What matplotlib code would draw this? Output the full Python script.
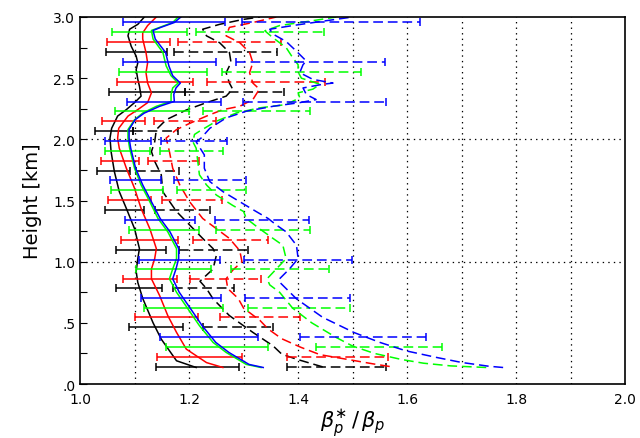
import matplotlib
matplotlib.use("Agg")
import matplotlib.pyplot as plt
import numpy as np

plt.rcParams['lines.scale_dashes'] = False

# ---- curves: height (km) and ratio ----
h_k = [0.135, 0.19, 0.367, 0.50, 0.70, 0.83, 0.92, 1.025, 1.107, 1.27, 1.435, 1.573, 1.737, 1.90, 2.01, 2.09,
       2.19, 2.243, 2.30, 2.353, 2.435, 2.49, 2.57, 2.625, 2.68, 2.76, 2.846, 2.90, 2.94, 3.0]
x_k = [1.213, 1.177, 1.149, 1.134, 1.115, 1.106, 1.103, 1.106, 1.109, 1.10, 1.085, 1.072, 1.063, 1.057, 1.055, 1.058,
       1.069, 1.085, 1.10, 1.112, 1.109, 1.106, 1.103, 1.106, 1.103, 1.094, 1.088, 1.091, 1.106, 1.118]

h_r = [0.135, 0.175, 0.285, 0.422, 0.559, 0.723, 0.86, 0.94, 1.025, 1.107, 1.27, 1.435, 1.60, 1.764, 1.928, 2.01,
       2.09, 2.19, 2.243, 2.30, 2.38, 2.46, 2.545, 2.625, 2.71, 2.82, 2.87, 2.93, 3.0]
x_r = [1.262, 1.232, 1.195, 1.177, 1.161, 1.146, 1.131, 1.131, 1.137, 1.14, 1.128, 1.112, 1.10, 1.085, 1.072, 1.069,
       1.071, 1.088, 1.106, 1.124, 1.131, 1.124, 1.121, 1.124, 1.121, 1.115, 1.115, 1.124, 1.14]

h_g = [0.135, 0.16, 0.258, 0.34, 0.477, 0.614, 0.75, 0.86, 0.94, 1.025, 1.107, 1.244, 1.353, 1.49, 1.627, 1.764,
       1.928, 2.01, 2.08, 2.16, 2.215, 2.27, 2.31, 2.367, 2.42, 2.46, 2.52, 2.60, 2.71, 2.82, 2.89, 2.915, 2.955, 3.0]
x_g = [1.332, 1.305, 1.268, 1.244, 1.219, 1.198, 1.177, 1.164, 1.17, 1.177, 1.177, 1.161, 1.143, 1.128, 1.112, 1.10,
       1.091, 1.088, 1.088, 1.10, 1.115, 1.14, 1.167, 1.167, 1.17, 1.18, 1.167, 1.158, 1.152, 1.134, 1.131, 1.146, 1.17, 1.18]

h_b = h_g
x_b = [1.336, 1.31, 1.273, 1.249, 1.224, 1.203, 1.182, 1.17, 1.176, 1.181, 1.181, 1.165, 1.147, 1.131, 1.115, 1.102,
       1.093, 1.09, 1.09, 1.101, 1.118, 1.146, 1.173, 1.172, 1.176, 1.184, 1.17, 1.163, 1.157, 1.138, 1.134, 1.148, 1.173, 1.185]

hd_k = [0.14, 0.203, 0.244, 0.312, 0.422, 0.559, 0.696, 0.78, 0.84, 0.94, 1.05, 1.107, 1.19, 1.30, 1.41, 1.57, 1.71,
        1.82, 1.90, 1.98, 2.08, 2.16, 2.24, 2.30, 2.353, 2.41, 2.46, 2.545, 2.627, 2.71, 2.79, 2.846, 2.90, 2.94, 2.98, 3.0]
xd_k = [1.445, 1.397, 1.37, 1.354, 1.317, 1.274, 1.244, 1.232, 1.22, 1.244, 1.25, 1.244, 1.225, 1.201, 1.177, 1.152, 1.149,
        1.137, 1.131, 1.137, 1.14, 1.158, 1.195, 1.232, 1.268, 1.28, 1.274, 1.268, 1.277, 1.274, 1.256, 1.232, 1.225, 1.256, 1.299, 1.33]

hd_r = [0.143, 0.165, 0.203, 0.24, 0.30, 0.37, 0.45, 0.52, 0.62, 0.70, 0.78, 0.86, 0.93, 1.0, 1.09, 1.19, 1.27, 1.353,
        1.49, 1.627, 1.764, 1.90, 2.01, 2.08, 2.13, 2.19, 2.243, 2.27, 2.325, 2.41, 2.46, 2.545, 2.627, 2.71, 2.79, 2.846,
        2.915, 2.955, 3.0]
xd_r = [1.568, 1.537, 1.488, 1.44, 1.405, 1.37, 1.345, 1.33, 1.30, 1.29, 1.271, 1.268, 1.28, 1.297, 1.293, 1.274, 1.25, 1.225,
        1.201, 1.183, 1.17, 1.164, 1.158, 1.177, 1.201, 1.232, 1.262, 1.293, 1.317, 1.329, 1.317, 1.311, 1.317, 1.311, 1.293, 1.268,
        1.274, 1.317, 1.36]

hd_g = [0.135, 0.148, 0.17, 0.20, 0.25, 0.31, 0.38, 0.50, 0.62, 0.75, 0.81, 0.86, 0.94, 1.025, 1.134, 1.19, 1.27, 1.353,
        1.41, 1.46, 1.545, 1.627, 1.71, 1.82, 1.928, 1.98, 2.04, 2.066, 2.148, 2.216, 2.257, 2.284, 2.34, 2.38, 2.41, 2.45,
        2.50, 2.55, 2.61, 2.668, 2.75, 2.83, 2.887, 2.93, 2.97, 3.0]
xd_g = [1.745, 1.68, 1.63, 1.59, 1.54, 1.50, 1.47, 1.425, 1.39, 1.366, 1.348, 1.343, 1.36, 1.378, 1.372, 1.354, 1.329, 1.305,
        1.30, 1.28, 1.25, 1.232, 1.219, 1.216, 1.213, 1.207, 1.21, 1.219, 1.25, 1.287, 1.329, 1.378, 1.403, 1.40, 1.427, 1.44,
        1.406, 1.40, 1.40, 1.39, 1.378, 1.354, 1.339, 1.366, 1.427, 1.47]

hd_b = [0.135, 0.145, 0.176, 0.217, 0.271, 0.34, 0.42, 0.545, 0.696, 0.833, 0.86, 0.94, 1.025, 1.134, 1.244, 1.30, 1.353,
        1.41, 1.49, 1.573, 1.655, 1.764, 1.873, 1.98, 2.01, 2.09, 2.175, 2.23, 2.27, 2.30, 2.325, 2.367, 2.42, 2.45, 2.46,
        2.49, 2.545, 2.61, 2.64, 2.72, 2.80, 2.86, 2.90, 2.93, 2.97, 3.0]
xd_b = [1.776, 1.75, 1.70, 1.654, 1.598, 1.55, 1.503, 1.445, 1.397, 1.366, 1.366, 1.384, 1.40, 1.397, 1.378, 1.36, 1.345,
        1.323, 1.293, 1.262, 1.238, 1.228, 1.228, 1.213, 1.222, 1.238, 1.268, 1.305, 1.354, 1.403, 1.433, 1.415, 1.409, 1.445, 1.464,
        1.427, 1.403, 1.409, 1.415, 1.397, 1.378, 1.354, 1.348, 1.39, 1.452, 1.50]

# ---- error bars: heights, solid (left,right), dashed (left,right) ----
eb_h_k = [0.137, 0.466, 0.786, 1.098, 1.422, 1.742, 2.066, 2.389, 2.717]
eb_h_r = [0.219, 0.548, 0.860, 1.175, 1.504, 1.824, 2.148, 2.471, 2.797]
eb_h_g = [0.302, 0.622, 0.942, 1.257, 1.583, 1.906, 2.230, 2.553, 2.879]
eb_h_b = [0.384, 0.704, 1.016, 1.339, 1.666, 1.988, 2.306, 2.633, 2.956]

sl_k = [1.14, 1.089, 1.066, 1.066, 1.046, 1.032, 1.028, 1.054, 1.047]
sr_k = [1.291, 1.189, 1.150, 1.157, 1.118, 1.091, 1.097, 1.192, 1.16]
dl_k = [1.379, 1.225, 1.17, 1.181, 1.137, 1.102, 1.097, 1.192, 1.173]
dr_k = [1.561, 1.354, 1.283, 1.308, 1.238, 1.181, 1.179, 1.375, 1.362]

sl_r = [1.142, 1.10, 1.079, 1.076, 1.052, 1.039, 1.041, 1.068, 1.05]
sr_r = [1.298, 1.217, 1.177, 1.18, 1.131, 1.109, 1.12, 1.207, 1.165]
dl_r = [1.379, 1.256, 1.201, 1.207, 1.151, 1.124, 1.135, 1.232, 1.18]
dr_r = [1.565, 1.404, 1.332, 1.345, 1.261, 1.218, 1.25, 1.45, 1.368]

sl_g = [1.158, 1.117, 1.102, 1.089, 1.057, 1.046, 1.065, 1.072, 1.058]
sr_g = [1.345, 1.262, 1.24, 1.218, 1.152, 1.129, 1.199, 1.233, 1.197]
dl_g = [1.432, 1.308, 1.277, 1.25, 1.177, 1.146, 1.225, 1.261, 1.213]
dr_g = [1.663, 1.495, 1.457, 1.422, 1.305, 1.262, 1.421, 1.516, 1.448]

sl_b = [1.147, 1.112, 1.108, 1.083, 1.055, 1.045, 1.087, 1.079, 1.079]
sr_b = [1.326, 1.258, 1.256, 1.21, 1.149, 1.131, 1.259, 1.25, 1.266]
dl_b = [1.404, 1.303, 1.30, 1.247, 1.173, 1.149, 1.299, 1.287, 1.298]
dr_b = [1.635, 1.496, 1.499, 1.42, 1.305, 1.269, 1.562, 1.56, 1.623]

xticks = [1.0, 1.2, 1.4, 1.6, 1.8, 2.0]
yticks = [0.0, 0.5, 1.0, 1.5, 2.0, 2.5, 3.0]
ylabels = [".0", ".5", "1.0", "1.5", "2.0", "2.5", "3.0"]

fig = plt.figure(figsize=(6.4, 4.39), dpi=100)
ax = fig.add_axes([0.125, 0.123, 0.852, 0.836])

dash = (0, (7, 3.5))
lw = 1.1

def bars(h, left, right, color, ls):
    left = np.array(left)
    right = np.array(right)
    c = (left + right) / 2
    e = (right - left) / 2
    eb = ax.errorbar(c, h, xerr=e, fmt='none', ecolor=color, elinewidth=lw,
                     capsize=3, capthick=lw)
    if ls != '-':
        eb[2][0].set_linestyle(ls)

series = [
    ('black', h_k, x_k, hd_k, xd_k, eb_h_k, sl_k, sr_k, dl_k, dr_k),
    ('red', h_r, x_r, hd_r, xd_r, eb_h_r, sl_r, sr_r, dl_r, dr_r),
    ('#00ff00', h_g, x_g, hd_g, xd_g, eb_h_g, sl_g, sr_g, dl_g, dr_g),
    ('blue', h_b, x_b, hd_b, xd_b, eb_h_b, sl_b, sr_b, dl_b, dr_b),
]

for col, hs, xs, hd, xd, ebh, sl, sr, dl, dr in series:
    bars(ebh, sl, sr, col, '-')
    bars(ebh, dl, dr, col, dash)
    ax.plot(xs, hs, color=col, lw=lw)
    ax.plot(xd, hd, color=col, lw=lw, linestyle=dash)

# dotted grid
for gx in np.arange(1.1, 1.95, 0.1):
    ax.axvline(gx, color='black', lw=0.9, linestyle=(0, (1, 3)), zorder=0)
for gy in [1.0, 2.0]:
    ax.axhline(gy, color='black', lw=0.9, linestyle=(0, (1, 3)), zorder=0)

ax.set_xlim(1.0, 2.0)
ax.set_ylim(0.0, 3.0)
ax.set_xticks(xticks)
ax.set_xticklabels([f"{v:.1f}" for v in xticks], fontsize=10)
ax.set_yticks(yticks)
ax.set_yticklabels(ylabels, fontsize=10)
ax.set_yticks(np.arange(0.25, 3.0, 0.5), minor=True)
ax.tick_params(axis='y', which='both', direction='in', length=5, width=0.8)
ax.tick_params(axis='x', which='major', length=0, pad=6)
for sp in ax.spines.values():
    sp.set_linewidth(1.2)

ax.set_ylabel("Height [km]", fontsize=14, labelpad=8)
ax.set_xlabel(r"$\beta_p^{\ast}\,/\,\beta_p$", fontsize=15, labelpad=0)

fig.savefig("out.png", dpi=100)
